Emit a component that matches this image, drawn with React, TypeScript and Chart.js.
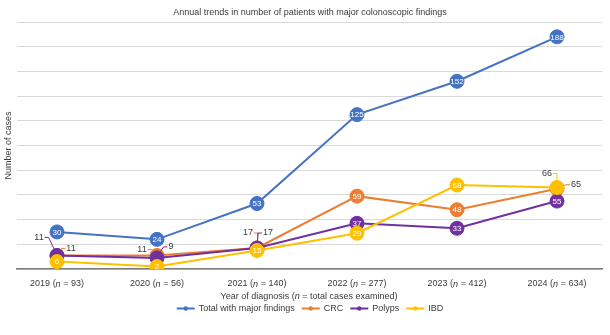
import React, { useEffect, useRef } from 'react';
import { Chart, registerables } from 'chart.js';

Chart.register(...registerables);

// ---- data ----
const years = ['2019', '2020', '2021', '2022', '2023', '2024'];
const casesExamined = [93, 56, 140, 277, 412, 634];
const totalMajor = [30, 24, 53, 125, 152, 188];
const crc = [11, 11, 17, 59, 48, 65];
const polyps = [11, 9, 17, 37, 33, 55];
const ibd = [6, 2, 15, 29, 68, 66];
const seriesNames = ['Total with major findings', 'CRC', 'Polyps', 'IBD'];
const seriesValues = [totalMajor, crc, polyps, ibd];
const yMin = 0;
const yMax = 200;
const yStep = 20;

// ---- styles ----
const FONT = "'Liberation Sans', Arial, sans-serif";
const TEXT = '#3a3a3a';
const colors = ['#4472C4', '#ED7D31', '#7030A0', '#FFC000'];
const drawOrder = [3, 2, 1, 0];
const RADIUS = 7;

// label placements for points whose value is shown outside the marker (dx, dy)
const callouts: Record<string, [number, number]> = {
  '1-0': [14, -7],
  '2-0': [-18, -18],
  '1-1': [-15, -6],
  '2-1': [14, -11],
  '1-2': [-9, -15],
  '2-2': [11, -15],
  '3-5': [-10, -14],
  '1-5': [19, -4],
};

type Part = [string, boolean];

function drawRich(ctx: CanvasRenderingContext2D, parts: Part[], cx: number, y: number, size: number) {
  let total = 0;
  const widths = parts.map(([t, it]) => {
    ctx.font = `${it ? 'italic ' : ''}${size}px ${FONT}`;
    const w = ctx.measureText(t).width;
    total += w;
    return w;
  });
  let x = cx - total / 2;
  ctx.textAlign = 'left';
  ctx.textBaseline = 'middle';
  parts.forEach(([t, it], i) => {
    ctx.font = `${it ? 'italic ' : ''}${size}px ${FONT}`;
    ctx.fillText(t, x, y);
    x += widths[i];
  });
}

const textPlugin = {
  id: 'textPlugin',
  afterDatasetsDraw(chart: any) {
    const ctx: CanvasRenderingContext2D = chart.ctx;
    ctx.save();
    [0, 1, 2, 3].forEach((di) => {
      const meta = chart.getDatasetMeta(di);
      meta.data.forEach((pt: any, i: number) => {
        const v = seriesValues[di][i];
        const co = callouts[`${di}-${i}`];
        if (co) {
          const tx = pt.x + co[0];
          const ty = pt.y + co[1];
          ctx.font = `9px ${FONT}`;
          const w = ctx.measureText(String(v)).width;
          const sx = co[0] < 0 ? tx + w / 2 + 1 : tx - w / 2 - 1;
          const hx = co[0] < 0 ? sx + 4 : sx - 4;
          const ang = Math.atan2(ty - pt.y, hx - pt.x);
          const ex = pt.x + Math.cos(ang) * RADIUS;
          const ey = pt.y + Math.sin(ang) * RADIUS;
          ctx.strokeStyle = colors[di];
          ctx.lineWidth = 1;
          ctx.beginPath();
          ctx.moveTo(sx, ty);
          ctx.lineTo(hx, ty);
          ctx.lineTo(ex, ey);
          ctx.stroke();
          ctx.fillStyle = TEXT;
          ctx.textAlign = 'center';
          ctx.textBaseline = 'middle';
          ctx.fillText(String(v), tx, ty);
        }
      });
    });
    [0, 1, 2, 3].forEach((di) => {
      const meta = chart.getDatasetMeta(di);
      meta.data.forEach((pt: any, i: number) => {
        if (callouts[`${di}-${i}`]) return;
        ctx.fillStyle = '#ffffff';
        ctx.font = `8px ${FONT}`;
        ctx.textAlign = 'center';
        ctx.textBaseline = 'middle';
        ctx.fillText(String(seriesValues[di][i]), pt.x, pt.y + 0.5);
      });
    });
    ctx.restore();
  },
  afterDraw(chart: any) {
    const ctx: CanvasRenderingContext2D = chart.ctx;
    const xs = chart.scales.x;
    ctx.save();
    ctx.fillStyle = TEXT;
    // title
    ctx.font = `9px ${FONT}`;
    ctx.textAlign = 'center';
    ctx.textBaseline = 'middle';
    ctx.fillText('Annual trends in number of patients with major colonoscopic findings', 310, 13);
    // x tick labels
    years.forEach((yr, i) => {
      const px = xs.getPixelForValue(i);
      drawRich(ctx, [[`${yr} (`, false], ['n', true], [` = ${casesExamined[i]})`, false]], px, 284, 9);
    });
    // x title
    drawRich(ctx, [['Year of diagnosis (', false], ['n', true], [' = total cases examined)', false]], 309, 296.5, 9);
    // legend
    ctx.font = `9px ${FONT}`;
    const lineLen = 18;
    const gap = 4;
    const itemGap = 7;
    const widths = seriesNames.map((n) => ctx.measureText(n).width);
    const total = widths.reduce((a, w) => a + lineLen + gap + w, 0) + itemGap * (seriesNames.length - 1);
    let x = 310 - total / 2;
    const ly = 308.5;
    seriesNames.forEach((n, i) => {
      ctx.strokeStyle = colors[i];
      ctx.lineWidth = 2;
      ctx.beginPath();
      ctx.moveTo(x, ly);
      ctx.lineTo(x + lineLen, ly);
      ctx.stroke();
      ctx.fillStyle = colors[i];
      ctx.beginPath();
      ctx.arc(x + lineLen / 2, ly, 2.2, 0, Math.PI * 2);
      ctx.fill();
      ctx.fillStyle = TEXT;
      ctx.textAlign = 'left';
      ctx.textBaseline = 'middle';
      ctx.fillText(n, x + lineLen + gap, ly);
      x += lineLen + gap + widths[i] + itemGap;
    });
    ctx.restore();
  },
};

export default function App() {
  const ref = useRef<HTMLCanvasElement>(null);
  useEffect(() => {
    document.body.style.margin = '0';
    const canvas = ref.current;
    if (!canvas) return;
    const chart = new Chart(canvas, {
      type: 'line',
      data: {
        datasets: seriesValues.map((vals, di) => ({
          label: seriesNames[di],
          data: vals.map((v, i) => ({ x: i, y: v })),
          borderColor: colors[di],
          backgroundColor: colors[di],
          pointBackgroundColor: colors[di],
          pointBorderColor: colors[di],
          pointRadius: RADIUS,
          pointBorderWidth: 1,
          borderWidth: 2,
          tension: 0,
          order: drawOrder[di],
        })),
      },
      options: {
        animation: false,
        responsive: false,
        layout: { padding: { top: 22, right: 5, left: 0, bottom: 0 } },
        plugins: { legend: { display: false }, title: { display: false }, tooltip: { enabled: false } },
        scales: {
          x: {
            type: 'linear',
            min: -0.4,
            max: 5.45,
            grid: { display: false },
            border: { display: true, color: '#7a7a7a', width: 1.5 },
            ticks: { display: false },
            afterFit: (s: any) => {
              s.height = 66;
            },
          },
          y: {
            min: yMin,
            max: yMax,
            ticks: { display: false, stepSize: yStep },
            grid: { color: '#d9d9d9', drawTicks: false, lineWidth: 1 },
            border: { display: false },
            title: {
              display: true,
              text: 'Number of cases',
              color: TEXT,
              font: { family: FONT, size: 9 },
              padding: { top: 3, bottom: 0 },
            },
            afterFit: (s: any) => {
              s.width = 17;
            },
          },
        },
      },
      plugins: [textPlugin],
    });
    return () => chart.destroy();
  }, []);
  return (
    <div style={{ width: 610, height: 335 }}>
      <canvas ref={ref} width={610} height={335} />
    </div>
  );
}
